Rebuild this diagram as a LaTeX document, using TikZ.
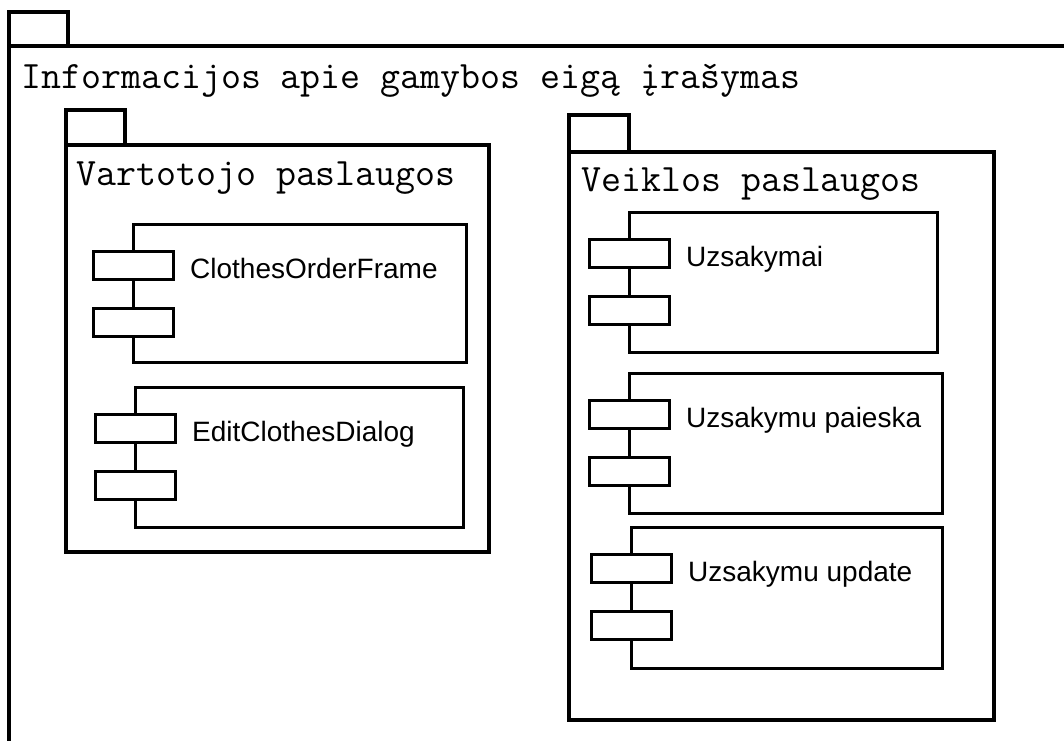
\documentclass[tikz,border=0pt]{standalone}
\usepackage{fontspec}
\setmainfont{Liberation Sans}

% component box: #1 name, #2 left, #3 top, #4 right, #5 bottom, #6 label
\newcommand\umlcomponent[6]{%
  \draw[compline] (#2,#3) coordinate (#1-nw) rectangle (#4,#5) coordinate (#1-se);
  \draw[compline,fill=white] (#2-40,#3+27.5) rectangle ++(80,28);
  \draw[compline,fill=white] (#2-40,#3+84) rectangle ++(80,28);
  \node[complabel] (#1) at (#2+57,#3+54) {#6};
}

\tikzset{
  pkgline/.style={line width=3.2pt, line join=miter},
  compline/.style={line width=3pt, line join=miter},
  pkglabel/.style={anchor=base west, inner sep=0pt, font=\ttfamily\fontsize{38.8}{39}\selectfont},
  complabel/.style={anchor=base west, inner sep=0pt, font=\fontsize{28}{28}\selectfont},
}

\begin{document}
\begin{tikzpicture}[x=1pt,y=-1pt]
\useasboundingbox (0,0) rectangle (1064,740);
\fill[white] (0,0) rectangle (1064,740);
\clip (0,0) rectangle (1064,740);

% outer package
\draw[pkgline] (9,46) rectangle (1090,770);
\draw[pkgline] (9,46) -- (9,12) -- (68,12) -- (68,46);
\node[pkglabel] (outer) at (21,88) {Informacijos apie gamybos eigą įrašymas};

% user services package
\draw[pkgline] (66,145) rectangle (489,552);
\draw[pkgline] (66,145) -- (66,110) -- (125,110) -- (125,145);
\node[pkglabel] (userpkg) at (76,185) {Vartotojo paslaugos};

\umlcomponent{clothesorder}{133}{224}{466}{362}{ClothesOrderFrame}
\umlcomponent{editclothes}{135}{387}{463}{527}{EditClothesDialog}

% business services package
\draw[pkgline] (569,152) rectangle (994,720);
\draw[pkgline] (569,152) -- (569,115) -- (629,115) -- (629,152);
\node[pkglabel] (bizpkg) at (581,191) {Veiklos paslaugos};

\umlcomponent{uzsakymai}{629}{212}{937}{352}{Uzsakymai}
\umlcomponent{paieska}{629}{373}{942}{513}{Uzsakymu paieska}
\umlcomponent{update}{631}{527}{942}{668}{Uzsakymu update}
\end{tikzpicture}
\end{document}
